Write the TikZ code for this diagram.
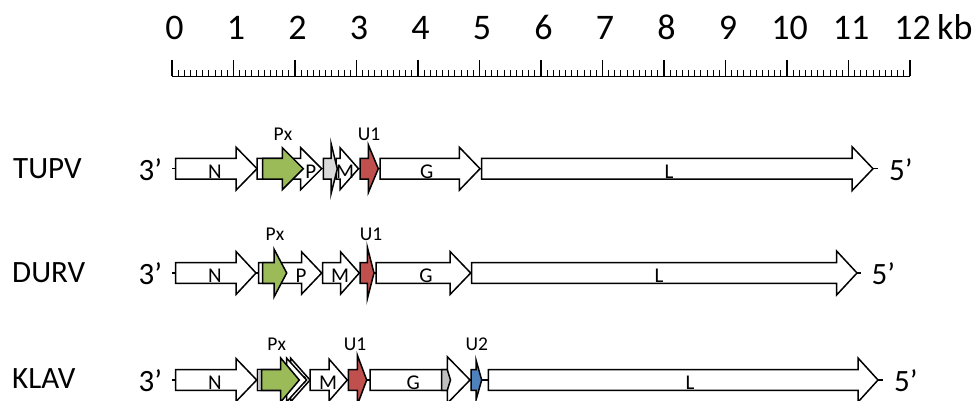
\documentclass[tikz,border=0pt]{standalone}
\usepackage{fontspec}
\setmainfont{Carlito}
\definecolor{pxgreen}{HTML}{9BBB59}
\definecolor{uired}{HTML}{C0504D}
\definecolor{uiblue}{HTML}{4F81BD}
\definecolor{lgray}{HTML}{D9D9D9}
\definecolor{mgray}{HTML}{BFBFBF}
% gene arrow: [fill]{x start}{head start}{tip}{y centre}{head half-height}
\newcommand\genearrow[6][white]{%
  \draw[genebox,fill=#1] (#2,#5-10.3) -- (#3,#5-10.3) -- (#3,#5-#6) -- (#4,#5)
    -- (#3,#5+#6) -- (#3,#5+10.3) -- (#2,#5+10.3) -- cycle;}
\tikzset{
  genebox/.style={draw=black,line width=1.5pt,line join=miter},
  backbone/.style={draw=black,line width=1.4pt},
  genelbl/.style={anchor=base,font=\fontsize{21}{25}\selectfont,inner sep=0pt},
  toplbl/.style={anchor=base,font=\fontsize{19.5}{23}\selectfont,inner sep=0pt},
  endlbl/.style={anchor=base west,font=\fontsize{31}{36}\selectfont,inner sep=0pt},
  rowlbl/.style={anchor=base west,font=\fontsize{31}{36}\selectfont,inner sep=0pt},
  scalelbl/.style={anchor=base,font=\fontsize{36}{42}\selectfont,inner sep=0pt},
  ruler/.style={draw=black,line width=1.5pt},
}
\begin{document}
\begin{tikzpicture}[x=1pt,y=-1pt]
\useasboundingbox (0,0) rectangle (974,401);
% ---------------- scale bar ----------------
\draw[ruler] (172,76.5) coordinate (r0) -- (910,76.5) coordinate (r12);
\foreach \k in {0,...,12}{
  \draw[ruler] (172+61.5*\k,60) -- (172+61.5*\k,76.5);
  \node[scalelbl] (s\k) at (174.5+61.5*\k,40) {\k};
}
\foreach \k in {0,...,11}{
  \foreach \m in {1,...,9}{
    \draw[black,line width=1pt] (172+61.5*\k+6.15*\m,70.5) -- (172+61.5*\k+6.15*\m,76.5);
  }
}
\node[scalelbl,anchor=base west] (kb) at (937,40) {kb};
% ---------------- TUPV ----------------
\def\yc{168.7}
\node[rowlbl] (tupv) at (13,\yc+9.5) {TUPV};
\node[endlbl] (t3) at (138.5,\yc+11.5) {3’};
\draw[backbone] (172,\yc) -- (878,\yc);
\genearrow{175.7}{236}{257}{\yc}{21.5}
\genearrow{257}{300.7}{321.7}{\yc}{21}
\genearrow[pxgreen]{262.7}{282.3}{303.3}{\yc}{21}
\genearrow{336}{340}{358.5}{\yc}{21}
\genearrow[lgray]{323.3}{331}{337.3}{\yc}{25.4}
\genearrow[uired]{360}{368.3}{378.3}{\yc}{24}
\genearrow{380}{459.3}{480}{\yc}{21.5}
\genearrow{481.7}{852}{873}{\yc}{22}
\node[endlbl] (t5) at (889,\yc+11.5) {5’};
\node[genelbl] (tN) at (215,\yc+9.5) {N};
\node[genelbl] (tP) at (310.7,\yc+9.5) {P};
\node[genelbl] (tM) at (345,\yc+9.5) {M};
\node[genelbl] (tG) at (426.7,\yc+9.5) {G};
\node[genelbl] (tL) at (669,\yc+9.5) {L};
\node[toplbl] (tPx) at (283,140) {Px};
\node[toplbl] (tU1) at (369,140) {U1};
% ---------------- DURV ----------------
\def\yc{273}
\node[rowlbl] (durv) at (12,\yc+9) {DURV};
\node[endlbl] (d3) at (138.5,\yc+11.5) {3’};
\draw[backbone] (172,\yc) -- (861,\yc);
\genearrow{175.7}{236}{256}{\yc}{21.5}
\genearrow{258.5}{301.7}{321.7}{\yc}{21}
\genearrow[pxgreen]{262.5}{274}{286.7}{\yc}{24}
\genearrow{322.7}{340.7}{359.3}{\yc}{21}
\genearrow[uired]{360}{367.3}{374}{\yc}{26}
\genearrow{376}{450}{470.7}{\yc}{21.5}
\genearrow{471.7}{836.6}{857}{\yc}{22}
\node[endlbl] (d5) at (871.5,\yc+11.5) {5’};
\node[genelbl] (dN) at (215,\yc+9.5) {N};
\node[genelbl] (dP) at (301,\yc+9.5) {P};
\node[genelbl] (dM) at (340,\yc+9.5) {M};
\node[genelbl] (dG) at (426,\yc+9.5) {G};
\node[genelbl] (dL) at (659,\yc+9.5) {L};
\node[toplbl] (dPx) at (275,240) {Px};
\node[toplbl] (dU1) at (371,240) {U1};
% ---------------- KLAV ----------------
\def\yc{380}
\node[rowlbl] (klav) at (12,\yc+8.5) {KLAV};
\node[endlbl] (k3) at (138.5,\yc+11.5) {3’};
\draw[backbone] (172,\yc) -- (883,\yc);
\genearrow{175.7}{236}{256.7}{\yc}{21.5}
\genearrow{257.7}{290.5}{310}{\yc}{22}
\node[genelbl] (kP) at (301.7,\yc+9.5) {P};
\genearrow{257.7}{286.5}{306.5}{\yc}{22}
\draw[genebox,fill=mgray] (257.7,\yc-10.3) rectangle (262,\yc+10.3);
\genearrow[pxgreen]{261.7}{280.7}{299.3}{\yc}{22}
\genearrow{310}{329}{347.3}{\yc}{21}
\genearrow[uired]{348.3}{357.3}{366.7}{\yc}{25}
\genearrow{370}{447.3}{470}{\yc}{23.3}
\draw[genebox,fill=mgray] (441.7,\yc-10.3) -- (447.3,\yc-10.3) -- (450.5,\yc) -- (447.3,\yc+10.3) -- (441.7,\yc+10.3) -- cycle;
\genearrow[uiblue]{471}{476}{481.7}{\yc}{20}
\genearrow{488.3}{858}{878}{\yc}{22}
\node[endlbl] (k5) at (894,\yc+11.5) {5’};
\node[genelbl] (kN) at (215,\yc+9.5) {N};
\node[genelbl] (kM) at (328,\yc+9.5) {M};
\node[genelbl] (kG) at (413.3,\yc+9.5) {G};
\node[genelbl] (kL) at (690,\yc+9.5) {L};
\node[toplbl] (kPx) at (276.7,350) {Px};
\node[toplbl] (kU1) at (355,350) {U1};
\node[toplbl] (kU2) at (476.7,350) {U2};
\end{tikzpicture}
\end{document}
